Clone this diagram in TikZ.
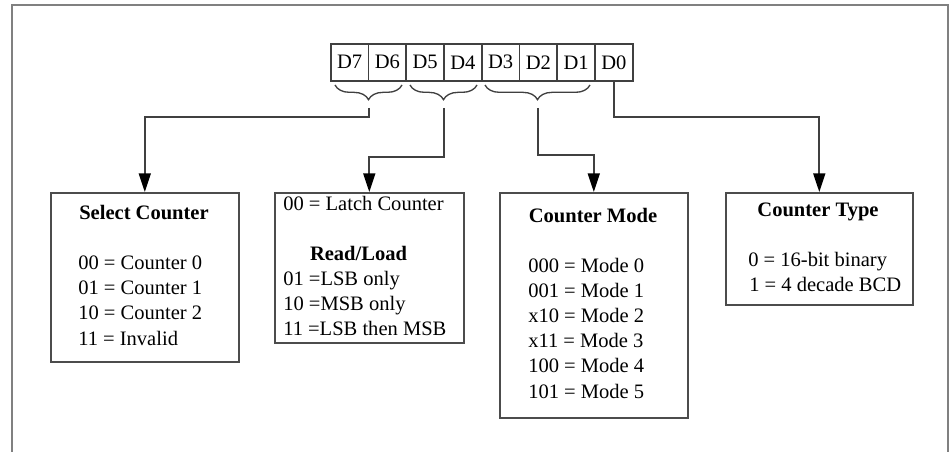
\documentclass[tikz,border=0pt]{standalone}
\usepackage{fontspec}
\setmainfont{Liberation Serif}
\usetikzlibrary{arrows.meta,decorations.pathreplacing}
\begin{document}
\begin{tikzpicture}[x=0.75pt,y=-0.75pt,
 line/.style={draw=black!75, line width=1.3pt},
 arr/.style={line, -{Triangle[length=14pt,width=9pt,fill=black,color=black]}},
 box/.style={draw=black!70, line width=1.2pt, anchor=north west, inner sep=0pt},
 cell/.style={draw=black!75, line width=1.2pt, minimum width=28.3pt, minimum height=27.75pt, inner sep=0pt, anchor=north west, font=\fontsize{15.4}{18.75}\selectfont},
 lbl/.style={anchor=base west, inner sep=0pt, font=\fontsize{15.4}{18.75}\selectfont},
 ttl/.style={anchor=base, inner sep=0pt, font=\fontsize{15.4}{18.75}\selectfont\bfseries},
 brc/.style={draw=black!75, line width=1pt, decorate, decoration={brace, mirror, amplitude=11pt}},
 frm/.style={draw=black!50, line width=1.5pt}
]
\useasboundingbox (0,0) rectangle (950,452);
\draw[frm] (12,452) -- (12,5) -- (948,5) -- (948,452);

% register cells
\node[cell] (d7) at (330,43) {D7};
\node[cell] (d6) at (367.75,43) {D6};
\node[cell] (d5) at (405.5,43) {D5};
\node[cell] (d4) at (443.25,43) {D4};
\node[cell] (d3) at (481,43) {D3};
\node[cell] (d2) at (518.75,43) {D2};
\node[cell] (d1) at (556.5,43) {D1};
\node[cell] (d0) at (594.25,43) {D0};

% braces
\draw[brc] (335,85) -- (402,85);
\draw[brc] (410,85) -- (477,85);
\draw[brc] (485,85) -- (590,85);

% boxes
\node[box, minimum width=141pt, minimum height=126.75pt] (sel) at (50,192) {};
\node[box, minimum width=141.75pt, minimum height=112.5pt] (rl) at (274,192) {};
\node[box, minimum width=141pt, minimum height=168.75pt] (mode) at (499,192) {};
\node[box, minimum width=140.25pt, minimum height=84pt] (type) at (725,192) {};

% connectors
\coordinate (t1) at (369,108);
\coordinate (k1) at (369,117);
\coordinate (t2) at (444,108);
\coordinate (k2) at (444,157);
\coordinate (t3) at (538,108);
\coordinate (k3) at (538,155);
\coordinate (k4) at (0,117);
\draw[arr] (t1) -- (k1) -| (sel.north);
\draw[arr] (t2) -- (k2) -| (rl.north);
\draw[arr] (t3) -- (k3) -| (mode.north);
\draw[arr] (d0.south) -- (d0.south |- k4) -| (type.north);

% Select Counter
\node[ttl] (selt) at (144,220) {Select Counter};
\node[lbl] (sel1) at (78,270) {00 = Counter 0};
\node[lbl] (sel2) at (78,295) {01 = Counter 1};
\node[lbl] (sel3) at (78,320) {10 = Counter 2};
\node[lbl] (sel4) at (78,345) {11 = Invalid};

% Read/Load
\node[lbl] (rl0) at (283,211) {00 = Latch Counter};
\node[ttl] (rlt) at (358.5,261) {Read/Load};
\node[lbl] (rl1) at (283,286) {01 =LSB only};
\node[lbl] (rl2) at (283,311) {10 =MSB only};
\node[lbl] (rl3) at (283,336) {11 =LSB then MSB};

% Counter Mode
\node[ttl] (modet) at (593,223) {Counter Mode};
\node[lbl] (m0) at (528,273) {000 = Mode 0};
\node[lbl] (m1) at (528,298) {001 = Mode 1};
\node[lbl] (m2) at (528,323) {x10 = Mode 2};
\node[lbl] (m3) at (528,348) {x11 = Mode 3};
\node[lbl] (m4) at (528,373) {100 = Mode 4};
\node[lbl] (m5) at (528,398) {101 = Mode 5};

% Counter Type
\node[ttl] (typet) at (818,217) {Counter Type};
\node[lbl] (ty0) at (748,267) {0 = 16-bit binary};
\node[lbl] (ty1) at (749,292) {1 = 4 decade BCD};
\end{tikzpicture}
\end{document}
